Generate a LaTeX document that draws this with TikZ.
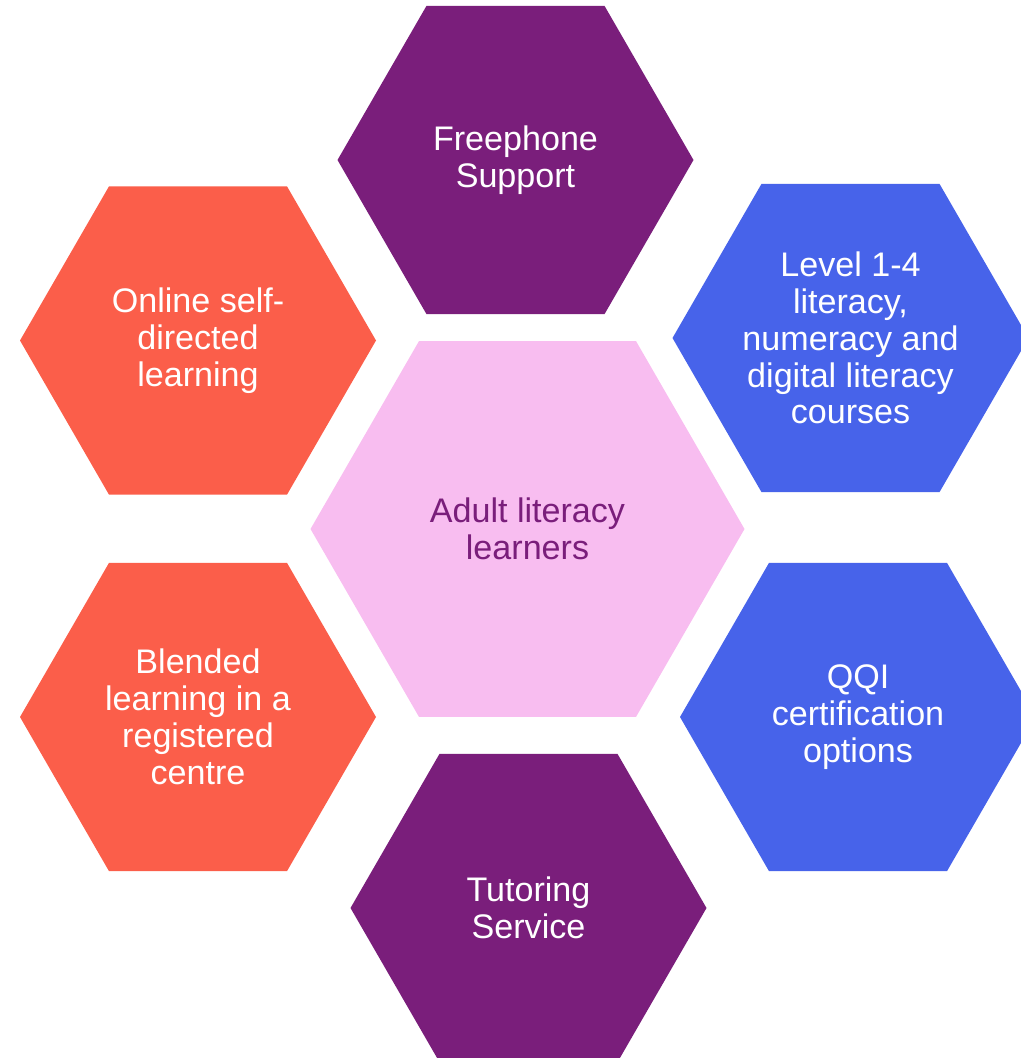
\documentclass[tikz,border=0pt]{standalone}
\usepackage{fontspec}
\setmainfont{Liberation Sans}
\usepackage{tikz}
\usetikzlibrary{shapes.geometric}

\definecolor{hexpurple}{RGB}{122,30,123}
\definecolor{hexorange}{RGB}{251,94,74}
\definecolor{hexblue}{RGB}{71,99,234}
\definecolor{hexpink}{RGB}{248,189,240}

\begin{document}
\begin{tikzpicture}[
  hex/.style={regular polygon,regular polygon sides=6,minimum size=7.12cm,
    inner sep=0pt,outer sep=0pt,align=center,text=white,
    font=\fontsize{19.4}{21}\selectfont}]
\useasboundingbox (0,0) rectangle (20.42,-21.16);
\clip (0,0) rectangle (20.42,-21.16);
\node[hex,fill=hexpink,minimum size=8.68cm,text=hexpurple] (adult) at (10.55,-10.58){Adult literacy\\learners};
\node[hex,fill=hexpurple] (freephone) at (10.31,-3.20){Freephone\\Support};
\node[hex,fill=hexorange] (online) at (3.96,-6.81){Online self-\\directed\\learning};
\node[hex,fill=hexblue] (level) at (17.01,-6.76){Level 1-4\\literacy,\\numeracy and\\digital literacy\\courses};
\node[hex,fill=hexorange] (blended) at (3.96,-14.34){Blended\\learning in a\\registered\\centre};
\node[hex,fill=hexblue] (qqi) at (17.16,-14.34){QQI\\certification\\options};
\node[hex,fill=hexpurple] (tutoring) at (10.57,-18.16){Tutoring\\Service};
\end{tikzpicture}
\end{document}
